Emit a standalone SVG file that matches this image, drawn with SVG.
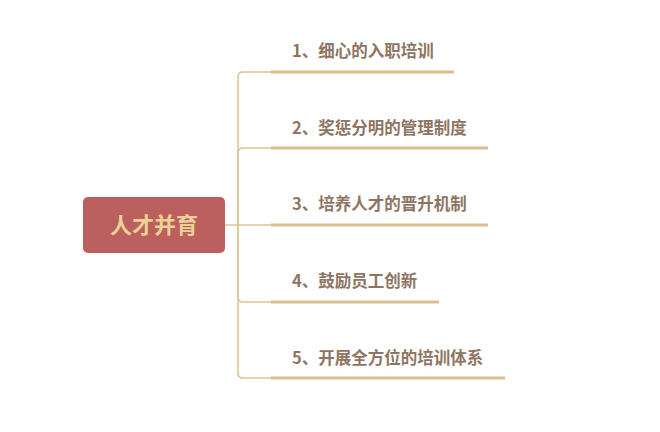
<svg xmlns="http://www.w3.org/2000/svg" width="660" height="432" viewBox="0 0 660 432">
<style>
.conn{fill:none;stroke:#dcc393;stroke-width:1.5}
.ul{fill:none;stroke:#d8bf8c;stroke-width:3}
.lbl{font-family:"Noto Sans CJK SC","Liberation Sans",sans-serif;font-weight:bold;font-size:16.5px;fill:#8e7563}
.root-t{font-family:"Noto Sans CJK SC","Liberation Sans",sans-serif;font-weight:bold;font-size:22px;fill:#ecd197}
</style>
<rect width="660" height="432" fill="#ffffff"/>
<g id="connectors">
<path class="conn" d="M225,225 H272"/>
<path class="conn" d="M238,225 V77 Q238,72 243,72 H272"/>
<path class="conn" d="M238,225 V153 Q238,148 243,148 H272"/>
<path class="conn" d="M238,225 V297 Q238,302 243,302 H272"/>
<path class="conn" d="M238,225 V373 Q238,378 243,378 H272"/>
</g>
<g id="root">
<rect x="83" y="197" width="142" height="56" rx="5" fill="#bb5f5f"/>
<text class="root-t" x="154" y="233" text-anchor="middle">人才并育</text>
</g>
<g id="n1">
<text class="lbl" x="292" y="57">1、细心的入职培训</text>
<path class="ul" d="M271,72 H454"/>
</g>
<g id="n2">
<text class="lbl" x="292" y="134">2、奖惩分明的管理制度</text>
<path class="ul" d="M271,148 H488"/>
</g>
<g id="n3">
<text class="lbl" x="292" y="210">3、培养人才的晋升机制</text>
<path class="ul" d="M271,225 H488"/>
</g>
<g id="n4">
<text class="lbl" x="292" y="287">4、鼓励员工创新</text>
<path class="ul" d="M271,302 H439"/>
</g>
<g id="n5">
<text class="lbl" x="292" y="364">5、开展全方位的培训体系</text>
<path class="ul" d="M271,378 H505"/>
</g>
</svg>
